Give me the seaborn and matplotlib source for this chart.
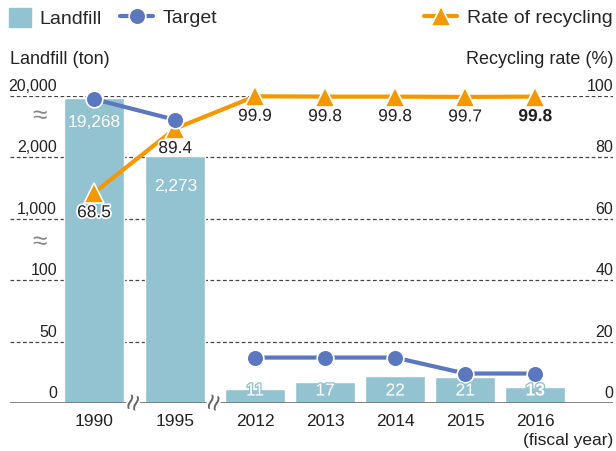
import numpy as np
import pandas as pd
import matplotlib.pyplot as plt
import matplotlib.transforms as mtransforms
import matplotlib.patheffects as pe
from matplotlib.lines import Line2D
from matplotlib.patches import Patch
import seaborn as sns

# data
years = ['1990', '1995', '2012', '2013', '2014', '2015', '2016']
landfill = [19268, 2273, 11, 17, 22, 21, 13]
landfill_labels = ['19,268', '2,273', '11', '17', '22', '21', '13']
target = [19100, 13000, 37, 37, 37, 24, 24]
recycling = [68.5, 89.4, 99.9, 99.8, 99.8, 99.7, 99.8]
left_ticks = [0, 50, 100, 1000, 2000, 20000]
left_tick_labels = ['0', '50', '100', '1,000', '2,000', '20,000']
right_ticks = [0, 20, 40, 60, 80, 100]

# layout: x positions (gaps for the broken years) and broken left scale
xpos = [0, 1.16, 2.3, 3.3, 4.3, 5.3, 6.3]


def to_rate_scale(v):
    # left axis is broken: each tick sits on one right-axis gridline
    return np.interp(v, left_ticks, right_ticks)


bar_c = '#93c3d0'
tgt_c = '#5b77bd'
rec_c = '#f39800'

sns.set_style('white')
plt.rcParams['font.family'] = ['Liberation Sans', 'DejaVu Sans']

df = pd.DataFrame({'x': xpos, 'landfill': to_rate_scale(landfill),
                   'target': to_rate_scale(target), 'recycling': recycling})

fig = plt.figure(figsize=(6.16, 4.51), dpi=100)
ax = fig.add_axes([10 / 616, 48 / 451, 603 / 616, 307 / 451])

for lv in right_ticks[1:]:
    ax.axhline(lv, ls=(0, (3, 2)), color='#444444', lw=0.9, zorder=0)

sns.barplot(data=df, x='x', y='landfill', native_scale=True, color=bar_c,
            saturation=1, width=0.857, errorbar=None, ax=ax, zorder=1)
ax.axhline(0, color='#777777', lw=2, zorder=3)

sns.lineplot(data=df, x='x', y='recycling', color=rec_c, lw=3, marker='^',
             markersize=15, markeredgecolor='white', markeredgewidth=1.2,
             ax=ax, zorder=4, clip_on=False)
for seg in [df.iloc[:2], df.iloc[2:]]:
    sns.lineplot(data=seg, x='x', y='target', color=tgt_c, lw=3, marker='o',
                 markersize=12, markeredgecolor='white', markeredgewidth=1.2,
                 ax=ax, zorder=5, clip_on=False)

ax.set_xlim(-1.2, 7.41)
ax.set_ylim(0, 100)
ax.set_xticks([])
ax.set_yticks([])
ax.set_xlabel('')
ax.set_ylabel('')
for s in ax.spines.values():
    s.set_visible(False)

# bar value labels
for i, (x, v, lab) in enumerate(zip(xpos, landfill, landfill_labels)):
    h = to_rate_scale(v)
    bold = 'bold' if i == len(xpos) - 1 else 'normal'
    if v > 100:
        ax.annotate(lab, (x, h), xytext=(0, -24 if i == 0 else -30),
                    textcoords='offset pixels', ha='center', va='center',
                    color='white', fontsize=12.5, zorder=6)
    else:
        ax.text(x, 3.9, lab, ha='center', va='center', color='white',
                fontsize=12.5, fontweight=bold, zorder=6,
                path_effects=[pe.withStroke(linewidth=2, foreground=bar_c)])

# recycling labels
for i, (x, v) in enumerate(zip(xpos, recycling)):
    bold = 'bold' if i == len(xpos) - 1 else 'normal'
    ax.annotate(f'{v:.1f}', (x, v), xytext=(0, -20), textcoords='offset pixels',
                ha='center', va='center', fontsize=12.5, fontweight=bold,
                color='#222222', zorder=7,
                path_effects=[pe.withStroke(linewidth=2.5, foreground='white')])

# axis tick labels
tl = mtransforms.blended_transform_factory(fig.transFigure, ax.transData)
for lv, lab in zip(right_ticks, left_tick_labels):
    ax.text(57 / 616, lv + 1.6, lab, transform=tl, ha='right', va='baseline',
            fontsize=11.5, color='#222222')
for lv in right_ticks:
    ax.text(613 / 616, lv + 1.6, str(lv), transform=tl, ha='right',
            va='baseline', fontsize=11.5, color='#222222')
for yb in [93.5, 52.5]:
    ax.text(40 / 616, yb, '≈', transform=tl, ha='center', va='center',
            fontsize=19, color='#888888')

tx = mtransforms.blended_transform_factory(ax.transData, fig.transFigure)
for x, y in zip(xpos, years):
    ax.text(x, 1 - 421 / 451, y, transform=tx, ha='center', va='center',
            fontsize=12.5, color='#222222')
for xb in [(xpos[0] + xpos[1]) / 2, (xpos[1] + xpos[2]) / 2]:
    ax.text(xb, 0, '≈', ha='center', va='center', rotation=75, fontsize=21,
            color='#666666', zorder=6,
            path_effects=[pe.withStroke(linewidth=3, foreground='white')])

fig.text(613 / 616, 1 - 440 / 451, '(fiscal year)', ha='right', va='center',
         fontsize=12.5, color='#222222')
fig.text(10 / 616, 1 - 60 / 451, 'Landfill (ton)', ha='left', va='center',
         fontsize=13, color='#222222')
fig.text(613 / 616, 1 - 60 / 451, 'Recycling rate (%)', ha='right',
         va='center', fontsize=13, color='#222222')

# legends
h_bar = Patch(color=bar_c)
h_tgt = Line2D([], [], color=tgt_c, lw=3, marker='o', markersize=12,
               markeredgecolor='white', markeredgewidth=1.2)
h_rec = Line2D([], [], color=rec_c, lw=3, marker='^', markersize=15,
               markeredgecolor='white', markeredgewidth=1.2)
leg_y = 1 - 18 / 451
leg_kw = dict(frameon=False, fontsize=14, borderaxespad=0, borderpad=0)
leg1 = fig.legend([h_bar], ['Landfill'], loc='center left',
                  bbox_to_anchor=(9 / 616, leg_y), handlelength=1.13,
                  handleheight=1.13, handletextpad=0.41, **leg_kw)
leg2 = fig.legend([h_tgt], ['Target'], loc='center left',
                  bbox_to_anchor=(120 / 616, leg_y), handlelength=1.7,
                  handletextpad=0.51, **leg_kw)
leg3 = fig.legend([h_rec], ['Rate of recycling'], loc='center right',
                  bbox_to_anchor=(613 / 616, leg_y), handlelength=1.7,
                  handletextpad=0.51, **leg_kw)

fig.savefig('out.png', dpi=100)
